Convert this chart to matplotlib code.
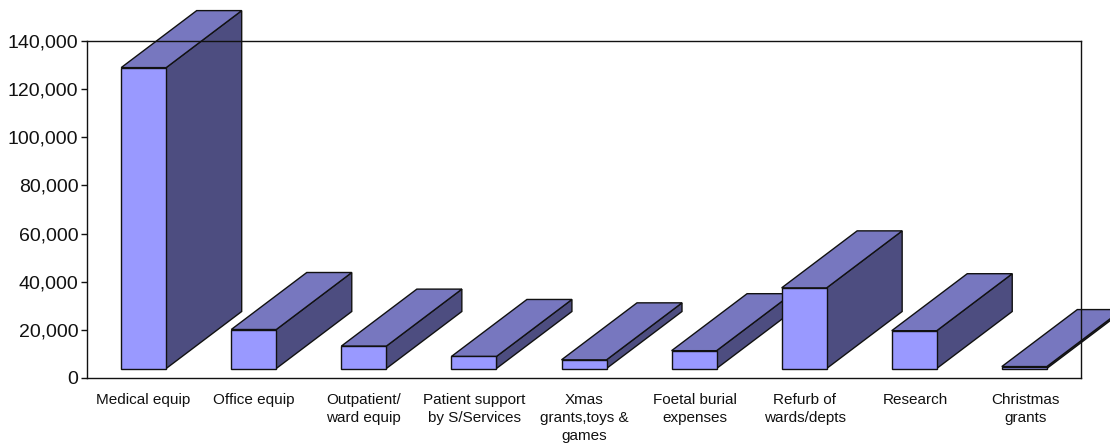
import matplotlib
matplotlib.use("Agg")
import matplotlib.pyplot as plt
from matplotlib.patches import Polygon

plt.rcParams['font.family'] = ['Liberation Sans', 'DejaVu Sans']

categories = ["Medical equip", "Office equip", "Outpatient/\nward equip", "Patient support\nby S/Services",
              "Xmas\ngrants,toys &\ngames", "Foetal burial\nexpenses", "Refurb of\nwards/depts", "Research",
              "Christmas\ngrants"]
values = [125000, 16200, 9300, 5000, 3600, 7400, 33500, 15700, 800]
y_ticks = [0, 20000, 40000, 60000, 80000, 100000, 120000, 140000]

W, H = 1110, 445
L, R, T, B = 87, 1081, 41, 378
fig = plt.figure(figsize=(W/100, H/100), dpi=100)
ax = fig.add_axes([L/W, 1-B/H, (R-L)/W, (B-T)/H])
ax.set_xlim(-0.02, 9.01)
ax.set_ylim(0, 140000)

ux = (R-L)/9.03
uy = (B-T)/140000
bar_w = 45/ux
dx = 75.5/ux
dy = 57/uy
base = 9.5/uy

for i, v in enumerate(values):
    x0 = i + 0.495 - bar_w/2
    x1 = x0 + bar_w
    y0 = base
    y1 = base + v
    kw = dict(edgecolor='#111111', linewidth=1.0, clip_on=False, joinstyle='miter')
    ax.add_patch(Polygon([(x1, y0), (x1+dx, y0+dy), (x1+dx, y1+dy), (x1, y1)], facecolor='#4D4D80', **kw))
    ax.add_patch(Polygon([(x0, y1), (x0+dx, y1+dy), (x1+dx, y1+dy), (x1, y1)], facecolor='#7777BF', **kw))
    ax.add_patch(Polygon([(x0, y0), (x1, y0), (x1, y1), (x0, y1)], facecolor='#9999FF', **kw))

ax.set_yticks(y_ticks)
ax.set_yticklabels([f"{t:,}" for t in y_ticks], fontsize=14, color='#111111')
ax.set_xticks([i * 1.002 + 0.49 for i in range(len(categories))])
ax.set_xticklabels(categories, fontsize=11, linespacing=1.38, va='top', color='#111111')
ax.tick_params(axis='x', length=0, pad=10.5)
ax.tick_params(axis='y', length=4.3, width=1.0, pad=2, color='#111111')
for s in ax.spines.values():
    s.set_linewidth(1.0)
    s.set_color('#111111')
fig.savefig("out.png", dpi=100)
